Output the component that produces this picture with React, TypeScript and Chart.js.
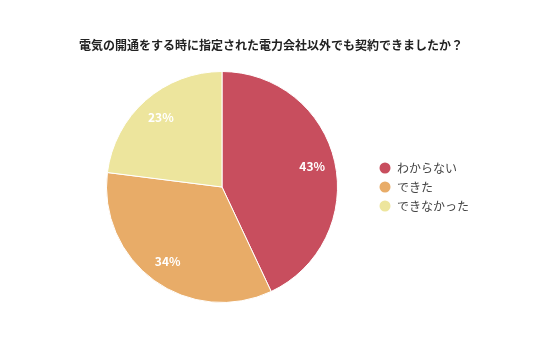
import React, { useEffect, useRef } from "react";
import { Chart, registerables } from "chart.js";

Chart.register(...registerables);

const title = "電気の開通をする時に指定された電力会社以外でも契約できましたか？";
const categories = ["わからない", "できた", "できなかった"];
const values = [43, 34, 23];
const colors = ["#C84E5E", "#E8AC68", "#EDE59D"];

const FONT = "'Noto Sans CJK JP', 'Noto Sans', sans-serif";

const labelPlugin = {
  id: "pctLabels",
  afterDatasetsDraw(chart: any) {
    const ctx = chart.ctx;
    const meta = chart.getDatasetMeta(0);
    const total = values.reduce((a, b) => a + b, 0);
    ctx.save();
    ctx.fillStyle = "#ffffff";
    ctx.font = `bold 12px ${FONT}`;
    ctx.textAlign = "center";
    ctx.textBaseline = "middle";
    meta.data.forEach((arc: any, i: number) => {
      const p = arc.getProps(["x", "y", "startAngle", "endAngle", "outerRadius"], true);
      const mid = (p.startAngle + p.endAngle) / 2;
      const r = p.outerRadius * 0.8;
      const x = p.x + Math.cos(mid) * r;
      const y = p.y + Math.sin(mid) * r;
      ctx.fillText(Math.round((values[i] / total) * 100) + "%", x, y);
    });
    ctx.restore();
  },
};

const titleLegendPlugin = {
  id: "titleLegend",
  afterDraw(chart: any) {
    const ctx = chart.ctx;
    const area = chart.chartArea;
    ctx.save();
    // title
    ctx.font = `bold 12px ${FONT}`;
    ctx.fillStyle = "#222222";
    ctx.textAlign = "center";
    ctx.textBaseline = "middle";
    ctx.fillText(title, chart.width / 2 + 3, 45);
    // legend
    const cy = (area.top + area.bottom) / 2;
    const gap = 19;
    const x0 = area.right + 15;
    ctx.font = `12px ${FONT}`;
    ctx.textAlign = "left";
    categories.forEach((c, i) => {
      const y = cy + (i - (categories.length - 1) / 2) * gap;
      ctx.beginPath();
      ctx.arc(x0, y, 5.5, 0, Math.PI * 2);
      ctx.fillStyle = colors[i];
      ctx.fill();
      ctx.fillStyle = "#444444";
      ctx.fillText(c, x0 + 12, y);
    });
    ctx.restore();
  },
};

export default function App() {
  const ref = useRef<HTMLCanvasElement>(null);
  useEffect(() => {
    document.body.style.margin = "0";
    const chart = new Chart(ref.current!, {
      type: "pie",
      data: {
        labels: categories,
        datasets: [
          {
            data: values,
            backgroundColor: colors,
            borderColor: "#ffffff",
            borderWidth: 1,
          },
        ],
      },
      options: {
        responsive: false,
        animation: false,
        layout: { padding: { left: 74, right: 166, top: 71, bottom: 54 } },
        plugins: {
          title: { display: false },
          legend: { display: false },
          tooltip: { enabled: false },
        },
      },
      plugins: [labelPlugin, titleLegendPlugin],
    });
    return () => chart.destroy();
  }, []);
  return (
    <div style={{ width: 536, height: 357, background: "#fff" }}>
      <canvas ref={ref} width={536} height={357} />
    </div>
  );
}
